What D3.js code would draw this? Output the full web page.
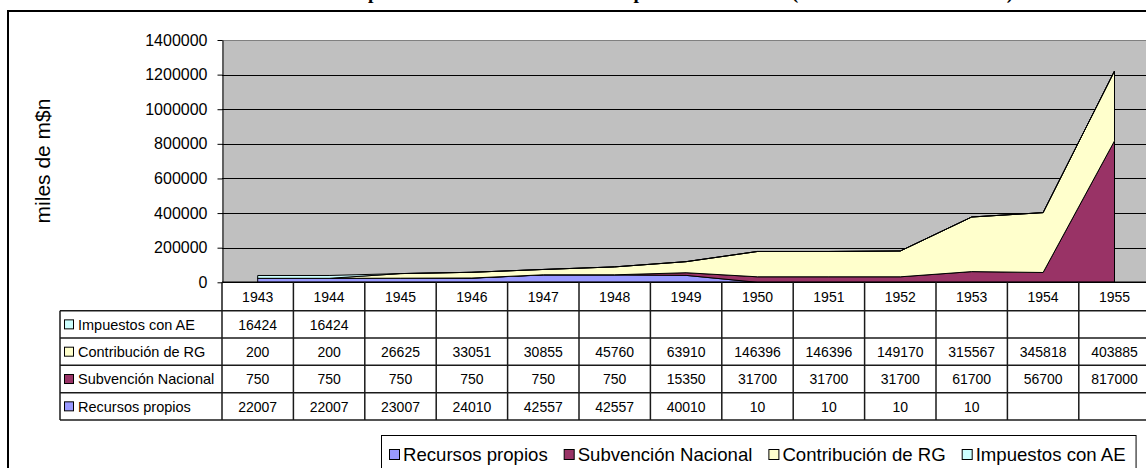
<!DOCTYPE html>
<html>
<head>
<meta charset="utf-8">
<script src="https://cdnjs.cloudflare.com/ajax/libs/d3/7.8.5/d3.min.js"></script>
<style>
    body { margin: 0; background: #fff; }
    #chart-area { width: 1146px; height: 468px; overflow: hidden; }
    text { font-family: "Liberation Sans", Arial, sans-serif; fill: #000; }
</style>
</head>
<body>
<div id="chart-area"></div>
<script>

// -- data
const years = [1943, 1944, 1945, 1946, 1947, 1948, 1949, 1950, 1951, 1952, 1953, 1954, 1955];
const recursosPropios    = [22007, 22007, 23007, 24010, 42557, 42557, 40010, 10, 10, 10, 10, null, null];
const subvencionNacional = [750, 750, 750, 750, 750, 750, 15350, 31700, 31700, 31700, 61700, 56700, 817000];
const contribucionRG     = [200, 200, 26625, 33051, 30855, 45760, 63910, 146396, 146396, 149170, 315567, 345818, 403885];
const impuestosAE        = [16424, 16424, null, null, null, null, null, null, null, null, null, null, null];

const seriesKeys   = ["recursos", "subvencion", "contribucion", "impuestos"];
const seriesNames  = ["Recursos propios", "Subvención Nacional", "Contribución de RG", "Impuestos con AE"];
const seriesColors = ["#9999FF", "#993366", "#FFFFCC", "#CCFFFF"];
const yTicks = [0, 200000, 400000, 600000, 800000, 1000000, 1200000, 1400000];

// title is almost entirely cut off at the top of the picture
const chartTitle = "Composición de los Recursos Municipales de la Ciudad (desde el año 1943 al 1955)";
const yTitle = "miles de m$n";


class AreaTableVis {

    constructor(parentElement) {
        this.parentElement = parentElement;
        this.initVis();
    }

    initVis() {
        let vis = this;

        vis.width = 1146;
        vis.height = 468;

        // plot box (right side runs past the window like the original)
        vis.plot = {left: 222, top: 40, bottom: 282.3, colW: 71.4};
        vis.plot.right = vis.plot.left + years.length * vis.plot.colW;

        vis.svg = d3.select("#" + vis.parentElement).append("svg")
            .attr("width", vis.width)
            .attr("height", vis.height);

        // chart frame
        vis.svg.append("rect")
            .attr("x", 8).attr("y", 11)
            .attr("width", 1400).attr("height", 600)
            .attr("fill", "#fff")
            .attr("stroke", "#000")
            .attr("stroke-width", 2);

        // title, only the descenders show
        vis.svg.append("text")
            .attr("x", 328).attr("y", -1)
            .style("font-family", "'Liberation Serif', 'Times New Roman', serif")
            .style("font-weight", "bold")
            .style("font-size", "19.5px")
            .text(chartTitle);

        // -- scales
        vis.x = d3.scaleBand()
            .domain(years)
            .range([vis.plot.left, vis.plot.right]);

        vis.y = d3.scaleLinear()
            .domain([0, 1400000])
            .range([vis.plot.bottom, vis.plot.top]);

        // plot background
        vis.svg.append("rect")
            .attr("x", vis.plot.left).attr("y", vis.plot.top)
            .attr("width", vis.plot.right - vis.plot.left)
            .attr("height", vis.plot.bottom - vis.plot.top)
            .attr("fill", "#C0C0C0");

        // gridlines
        vis.svg.append("g")
            .attr("class", "grid")
            .selectAll("line")
            .data(yTicks.filter(d => d > 0))
            .enter().append("line")
            .attr("x1", vis.plot.left).attr("x2", vis.plot.right)
            .attr("y1", d => Math.round(vis.y(d)) + 0.5)
            .attr("y2", d => Math.round(vis.y(d)) + 0.5)
            .attr("stroke", d => d === 1400000 ? "#808080" : "#000")
            .attr("stroke-width", 1);

        vis.areaGroup = vis.svg.append("g").attr("class", "areas");

        // -- y axis
        vis.yAxis = d3.axisLeft(vis.y)
            .tickValues(yTicks)
            .tickFormat(d3.format("d"))
            .tickSizeInner(5)
            .tickSizeOuter(0)
            .tickPadding(10);

        let yAxisG = vis.svg.append("g")
            .attr("class", "y axis")
            .attr("transform", `translate(${vis.plot.left + 0.5}, 0)`)
            .call(vis.yAxis);
        yAxisG.select(".domain").attr("stroke", "#000");
        yAxisG.selectAll(".tick line").attr("stroke", "#000");
        yAxisG.selectAll(".tick text")
            .style("font-size", "16px")
            .style("font-family", "'Liberation Sans', Arial, sans-serif")
            .attr("fill", "#000");

        vis.svg.append("text")
            .attr("transform", "translate(50, 161) rotate(-90)")
            .attr("text-anchor", "middle")
            .style("font-size", "21px")
            .text(yTitle);

        this.wrangleData();
    }

    wrangleData() {
        let vis = this;

        let cols = [recursosPropios, subvencionNacional, contribucionRG, impuestosAE];
        vis.displayData = years.map((yr, i) => {
            let row = {year: yr};
            seriesKeys.forEach((k, j) => { row[k] = cols[j][i]; });
            return row;
        });

        vis.stacked = d3.stack()
            .keys(seriesKeys)
            .value((d, key) => d[key] || 0)(vis.displayData);

        vis.cols = cols;
        vis.updateVis();
    }

    updateVis() {
        let vis = this;
        let half = vis.x.bandwidth() / 2;

        let area = d3.area()
            .x(d => vis.x(d.data.year) + half)
            .y0(d => vis.y(d[0]))
            .y1(d => vis.y(d[1]));

        vis.areaGroup.selectAll("path")
            .data(vis.stacked)
            .enter().append("path")
            .attr("d", area)
            .attr("fill", (d, i) => seriesColors[i])
            .attr("stroke", "#000")
            .attr("stroke-width", 1)
            .attr("stroke-linejoin", "miter");

        // -- data table
        let rowOrder = [3, 2, 1, 0];
        let headerTop = vis.plot.bottom, headerBottom = 310.7, tableBottom = 420;
        let rowY = d3.scaleBand()
            .domain(rowOrder)
            .range([headerBottom, tableBottom]);
        let tableLeft = 60;

        let table = vis.svg.append("g").attr("class", "data-table");
        let lineColor = "#1a1a1a";

        // horizontal lines
        table.append("line")
            .attr("x1", vis.plot.left).attr("x2", vis.plot.right)
            .attr("y1", headerTop).attr("y2", headerTop)
            .attr("stroke", "#000").attr("stroke-width", 1.5);
        table.selectAll("line.h")
            .data([headerBottom].concat(rowOrder.map(r => rowY(r) + rowY.bandwidth())))
            .enter().append("line")
            .attr("class", "h")
            .attr("x1", tableLeft).attr("x2", vis.plot.right)
            .attr("y1", d => d).attr("y2", d => d)
            .attr("stroke", lineColor).attr("stroke-width", 1.5);

        // vertical lines
        table.append("line")
            .attr("x1", tableLeft).attr("x2", tableLeft)
            .attr("y1", headerBottom).attr("y2", tableBottom)
            .attr("stroke", lineColor).attr("stroke-width", 1.5);
        table.selectAll("line.v")
            .data(d3.range(years.length + 1))
            .enter().append("line")
            .attr("class", "v")
            .attr("x1", k => vis.plot.left + k * vis.x.step())
            .attr("x2", k => vis.plot.left + k * vis.x.step())
            .attr("y1", headerTop).attr("y2", tableBottom)
            .attr("stroke", lineColor).attr("stroke-width", 1.5);

        // year headers
        table.selectAll("text.year")
            .data(years)
            .enter().append("text")
            .attr("class", "year")
            .attr("x", d => vis.x(d) + half)
            .attr("y", (headerTop + headerBottom) / 2 + 5.3)
            .attr("text-anchor", "middle")
            .style("font-size", "14px")
            .text(d => d);

        // row labels with legend keys
        rowOrder.forEach(r => {
            let cy = rowY(r) + rowY.bandwidth() / 2;
            table.append("rect")
                .attr("x", 64.5).attr("y", cy - 4.5)
                .attr("width", 9).attr("height", 9)
                .attr("fill", seriesColors[r])
                .attr("stroke", "#000").attr("stroke-width", 1);
            table.append("text")
                .attr("x", 78).attr("y", cy + 5.3)
                .style("font-size", "14.5px")
                .text(seriesNames[r]);

            table.selectAll(null)
                .data(vis.cols[r].map((v, i) => ({v: v, year: years[i]})).filter(d => d.v !== null))
                .enter().append("text")
                .attr("x", d => vis.x(d.year) + half)
                .attr("y", cy + 5.3)
                .attr("text-anchor", "middle")
                .style("font-size", "14px")
                .text(d => d.v);
        });

        // -- bottom legend
        let legend = vis.svg.append("g").attr("class", "legend");
        let legendBox = legend.append("rect")
            .attr("y", 435.5).attr("height", 60)
            .attr("fill", "#fff")
            .attr("stroke", "#000").attr("stroke-width", 1);

        let items = legend.append("g");
        let lx = 0;
        seriesNames.forEach((name, i) => {
            items.append("rect")
                .attr("x", lx + 0.5).attr("y", 449.5)
                .attr("width", 10).attr("height", 10)
                .attr("fill", seriesColors[i])
                .attr("stroke", "#000").attr("stroke-width", 1);
            let t = items.append("text")
                .attr("x", lx + 14).attr("y", 461)
                .style("font-size", "18.6px")
                .text(name);
            lx += 14 + t.node().getComputedTextLength() + 16;
        });
        let itemsW = lx - 16;
        let boxLeft = 381, boxW = itemsW + 18;
        items.attr("transform", `translate(${boxLeft + 8}, 0)`);
        legendBox.attr("x", boxLeft + 0.5).attr("width", boxW);
    }
}

let areaTableVis = new AreaTableVis("chart-area");

</script>
</body>
</html>
